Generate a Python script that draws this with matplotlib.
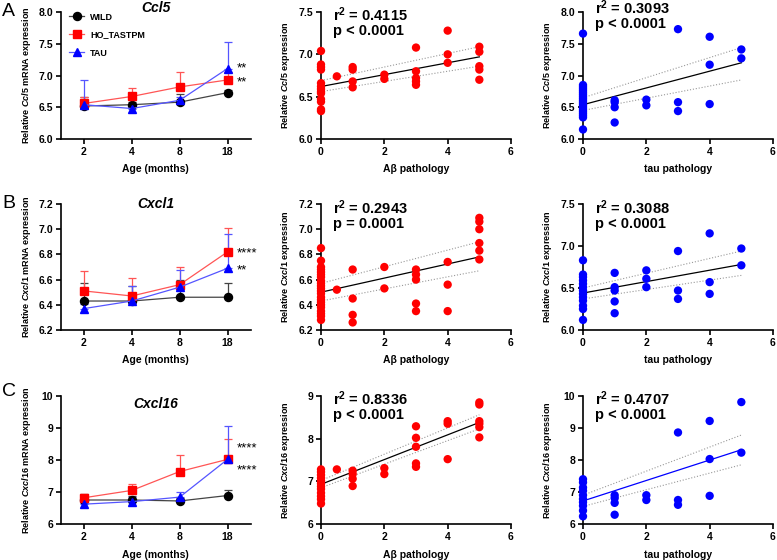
import numpy as np
import matplotlib.pyplot as plt

plt.rcParams['font.family'] = ['Liberation Sans', 'DejaVu Sans']
plt.rcParams['font.weight'] = 'bold'
plt.rcParams['mathtext.fontset'] = 'custom'
plt.rcParams['mathtext.rm'] = 'Liberation Sans:bold'
plt.rcParams['mathtext.it'] = 'Liberation Sans:italic:bold'
plt.rcParams['mathtext.bf'] = 'Liberation Sans:bold'

# ---- time course data (mean and upper error) ----
ages = ['2', '4', '8', '18']

ccl5_wild = [6.52, 6.54, 6.58, 6.73]
ccl5_wild_err = [0.14, 0.04, 0.13, 0.04]
ccl5_ho = [6.56, 6.67, 6.82, 6.93]
ccl5_ho_err = [0.10, 0.14, 0.23, 0.12]
ccl5_tau = [6.54, 6.48, 6.61, 7.11]
ccl5_tau_err = [0.39, 0.04, 0.05, 0.42]

cxcl1_wild = [6.43, 6.43, 6.46, 6.46]
cxcl1_wild_err = [0.14, 0.12, 0.14, 0.11]
cxcl1_ho = [6.51, 6.47, 6.56, 6.82]
cxcl1_ho_err = [0.16, 0.14, 0.14, 0.19]
cxcl1_tau = [6.37, 6.43, 6.54, 6.69]
cxcl1_tau_err = [0.04, 0.12, 0.14, 0.27]

cxcl16_wild = [6.75, 6.75, 6.72, 6.89]
cxcl16_wild_err = [0.20, 0.12, 0.10, 0.16]
cxcl16_ho = [6.82, 7.05, 7.64, 8.02]
cxcl16_ho_err = [0.13, 0.20, 0.53, 0.64]
cxcl16_tau = [6.62, 6.70, 6.84, 8.02]
cxcl16_tau_err = [0.05, 0.15, 0.16, 1.03]

stars_ccl5 = ['**', '**']
stars_ccl5_y = [7.11, 6.89]
stars_cxcl1 = ['****', '**']
stars_cxcl1_y = [6.81, 6.67]
stars_cxcl16 = ['****', '****']
stars_cxcl16_y = [8.36, 7.66]

# ---- correlation data ----
ccl5_ab_x = [0, 0, 0, 0, 0, 0, 0, 0, 0, 0, 0, 0, 0, 0.5, 1, 1, 1, 1, 2, 2,
             3, 3, 3, 3, 3, 4, 4, 4, 5, 5, 5, 5, 5]
ccl5_ab_y = [7.04, 6.88, 6.85, 6.82, 6.66, 6.62, 6.59, 6.56, 6.54, 6.47, 6.44, 6.35, 6.33,
             6.74, 6.85, 6.82, 6.68, 6.61, 6.76, 6.71,
             7.08, 6.80, 6.72, 6.68, 6.64, 7.28, 7.00, 6.90, 7.09, 7.03, 6.86, 6.82, 6.70]

ccl5_tau_x = [0, 0, 0, 0, 0, 0, 0, 0, 0, 0, 0, 0, 0, 0, 0, 0, 0, 0, 0, 0,
              1, 1, 1, 1, 2, 2, 3, 3, 3, 4, 4, 4, 5, 5]
ccl5_tau_y = [7.66, 6.85, 6.82, 6.79, 6.76, 6.73, 6.70, 6.67, 6.64, 6.61, 6.58, 6.55,
              6.52, 6.49, 6.46, 6.43, 6.40, 6.37, 6.34, 6.15,
              6.61, 6.58, 6.50, 6.26, 6.62, 6.53, 7.73, 6.58, 6.44,
              7.61, 7.17, 6.55, 7.41, 7.27]

cxcl1_ab_x = [0, 0, 0, 0, 0, 0, 0, 0, 0, 0, 0, 0, 0, 0, 0, 0, 0, 0, 0, 0, 0, 0,
              0.5, 1, 1, 1, 1, 2, 2, 3, 3, 3, 3, 3, 4, 4, 4, 5, 5, 5, 5, 5, 5]
cxcl1_ab_y = [6.85, 6.75, 6.70, 6.68, 6.66, 6.64, 6.62, 6.59, 6.57, 6.55, 6.53, 6.51,
              6.49, 6.46, 6.44, 6.42, 6.40, 6.38, 6.35, 6.33, 6.31, 6.28,
              6.52, 6.68, 6.45, 6.32, 6.26, 6.70, 6.53,
              6.68, 6.64, 6.60, 6.41, 6.35, 6.74, 6.56, 6.35,
              7.09, 7.06, 7.00, 6.89, 6.83, 6.76]

cxcl1_tau_x = [0, 0, 0, 0, 0, 0, 0, 0, 0, 0, 0, 0, 0,
               1, 1, 1, 1, 1, 2, 2, 2, 3, 3, 3, 4, 4, 4, 5, 5]
cxcl1_tau_y = [6.83, 6.66, 6.63, 6.59, 6.55, 6.51, 6.47, 6.43, 6.39, 6.35, 6.29, 6.25, 6.12,
               6.68, 6.51, 6.47, 6.34, 6.20, 6.71, 6.61, 6.51,
               6.94, 6.47, 6.37, 7.15, 6.57, 6.43, 6.97, 6.77]

cxcl16_ab_x = [0, 0, 0, 0, 0, 0, 0, 0, 0, 0, 0, 0,
               0.5, 1, 1, 1, 1, 2, 2, 3, 3, 3, 3, 3, 4, 4, 4, 5, 5, 5, 5, 5, 5]
cxcl16_ab_y = [7.28, 7.22, 7.15, 7.08, 7.01, 6.95, 6.88, 6.82, 6.73, 6.65, 6.58, 6.48,
               7.28, 7.25, 7.17, 7.06, 6.89, 7.31, 7.17,
               8.29, 8.02, 7.81, 7.42, 7.34, 8.41, 8.35, 7.52,
               8.85, 8.80, 8.41, 8.35, 8.27, 8.03]

cxcl16_tau_x = [0, 0, 0, 0, 0, 0, 0, 0, 0, 0,
                1, 1, 1, 1, 2, 2, 3, 3, 3, 4, 4, 4, 5, 5]
cxcl16_tau_y = [7.40, 7.30, 7.14, 7.04, 6.90, 6.78, 6.68, 6.57, 6.42, 6.24,
                6.90, 6.81, 6.66, 6.29, 6.90, 6.75, 8.86, 6.75, 6.60,
                9.22, 8.03, 6.88, 9.81, 8.23]

# fitted line and 95% band read at x = 0 and x = 5
fit_x = [0, 5]
ccl5_ab_fit = [6.62, 6.97]
ccl5_ab_lo = [6.56, 6.86]
ccl5_ab_hi = [6.69, 7.09]
ccl5_tau_fit = [6.54, 7.20]
ccl5_tau_lo = [6.45, 6.93]
ccl5_tau_hi = [6.65, 7.44]
cxcl1_ab_fit = [6.50, 6.78]
cxcl1_ab_lo = [6.43, 6.67]
cxcl1_ab_hi = [6.57, 6.90]
cxcl1_tau_fit = [6.44, 6.78]
cxcl1_tau_lo = [6.37, 6.65]
cxcl1_tau_hi = [6.50, 6.94]
cxcl16_ab_fit = [6.93, 8.38]
cxcl16_ab_lo = [6.85, 8.23]
cxcl16_ab_hi = [7.02, 8.56]
cxcl16_tau_fit = [6.72, 8.32]
cxcl16_tau_lo = [6.55, 7.85]
cxcl16_tau_hi = [6.90, 8.78]

RED = '#ff0000'
BLUE = '#0000ff'

fig = plt.figure(figsize=(7.77, 5.6), dpi=100)

rows_bottom = [1 - 139 / 560, 1 - 330 / 560, 1 - 524 / 560]
rows_height = [127 / 560, 126 / 560, 128 / 560]
cols_left = [61 / 777, 321 / 777, 583 / 777]
cols_width = [189.5 / 777, 190 / 777, 190 / 777]


def style_axes(ax):
    for s in ['top', 'right']:
        ax.spines[s].set_visible(False)
    for s in ['left', 'bottom']:
        ax.spines[s].set_linewidth(1.2)
    ax.tick_params(width=1.2, length=3.5, labelsize=7.5, pad=2)
    for lab in ax.get_xticklabels() + ax.get_yticklabels():
        lab.set_fontweight('bold')


def line_panel(ax, gene, wild, wild_err, ho, ho_err, tau, tau_err,
               ylim, yticks, stars, stars_y, title_y):
    x = np.arange(len(ages))
    series = [(wild, wild_err, 'black', '#444444', 'o', 'WILD'),
              (ho, ho_err, RED, '#ff5555', 's', 'HO_TASTPM'),
              (tau, tau_err, BLUE, '#5555ff', '^', 'TAU')]
    for vals, err, c, lc, m, lab in series:
        ax.errorbar(x, vals, yerr=[np.zeros(len(err)), err], fmt='none',
                    ecolor=lc, elinewidth=0.9, capsize=3, capthick=0.9, zorder=2)
        ax.plot(x, vals, color=lc, lw=0.9, marker=m, markersize=5.8,
                markerfacecolor=c, markeredgecolor=c, label=lab, zorder=3,
                clip_on=False)
    ax.set_xlim(-0.48, 3.48)
    ax.set_xticks(x)
    ax.set_xticklabels(ages)
    ax.set_ylim(*ylim)
    ax.set_yticks(yticks)
    ax.set_xlabel('Age (months)', fontsize=7.5, fontweight='bold')
    ax.xaxis.set_label_coords(0.5, -0.2)
    ax.set_ylabel(r'Relative $\mathit{%s}$ mRNA expression' % gene,
                  fontsize=6.5, fontweight='bold')
    ax.yaxis.set_label_coords(-0.15, 0.5)
    ax.text(0.5, title_y, gene, transform=ax.transAxes, ha='center', va='center',
            fontsize=10, fontweight='bold', fontstyle='italic')
    for s, sy in zip(stars, stars_y):
        ax.text(3.2, sy, s, ha='left', va='center', fontsize=9.5,
                fontweight='normal', clip_on=False)
    style_axes(ax)


def corr_panel(ax, gene, xs, ys, color, fit, lo, hi, line_color,
               ylim, yticks, r2, ptxt, xlabel, text_y):
    ax.plot(fit_x, lo, color='#999999', ls=':', lw=0.8, zorder=2)
    ax.plot(fit_x, hi, color='#999999', ls=':', lw=0.8, zorder=2)
    ax.plot(fit_x, fit, color=line_color, lw=0.9, zorder=2)
    ax.scatter(xs, ys, s=36, color=color, edgecolors='none', zorder=4,
               clip_on=False)
    ax.set_xlim(0, 6)
    ax.set_xticks([0, 2, 4, 6])
    ax.set_ylim(*ylim)
    ax.set_yticks(yticks)
    ax.set_xlabel(xlabel, fontsize=7.5, fontweight='bold')
    ax.xaxis.set_label_coords(0.5, -0.2)
    ax.set_ylabel(r'Relative $\mathit{%s}$ expression' % gene,
                  fontsize=6.5, fontweight='bold')
    ax.yaxis.set_label_coords(-0.15, 0.5)
    ax.text(0.065, text_y, r'r$^{\mathrm{2}}$ = ' + r2, transform=ax.transAxes,
            ha='left', va='center', fontsize=10.5, fontweight='bold')
    ax.text(0.065, text_y - 0.125, ptxt, transform=ax.transAxes,
            ha='left', va='center', fontsize=10.5, fontweight='bold')
    style_axes(ax)


axes = [[fig.add_axes([cols_left[c], rows_bottom[r], cols_width[c], rows_height[r]])
         for c in range(3)] for r in range(3)]

# row A
line_panel(axes[0][0], 'Ccl5', ccl5_wild, ccl5_wild_err, ccl5_ho, ccl5_ho_err,
           ccl5_tau, ccl5_tau_err, (6.0, 8.0), [6.0, 6.5, 7.0, 7.5, 8.0],
           stars_ccl5, stars_ccl5_y, 1.03)
axes[0][0].yaxis.set_major_formatter(plt.FormatStrFormatter('%.1f'))
leg = axes[0][0].legend(loc='upper left', bbox_to_anchor=(0.0, 1.06), frameon=False,
                        prop={'size': 6.5, 'weight': 'bold'}, labelspacing=1.0,
                        handlelength=1.7, handletextpad=0.6)
corr_panel(axes[0][1], 'Ccl5', ccl5_ab_x, ccl5_ab_y, RED, ccl5_ab_fit, ccl5_ab_lo,
           ccl5_ab_hi, 'black', (6.0, 7.5), [6.0, 6.5, 7.0, 7.5],
           '0.4115', 'p < 0.0001', 'Aβ pathology', 0.975)
axes[0][1].yaxis.set_major_formatter(plt.FormatStrFormatter('%.1f'))
corr_panel(axes[0][2], 'Ccl5', ccl5_tau_x, ccl5_tau_y, BLUE, ccl5_tau_fit, ccl5_tau_lo,
           ccl5_tau_hi, 'black', (6.0, 8.0), [6.0, 6.5, 7.0, 7.5, 8.0],
           '0.3093', 'p < 0.0001', 'tau pathology', 1.03)
axes[0][2].yaxis.set_major_formatter(plt.FormatStrFormatter('%.1f'))

# row B
line_panel(axes[1][0], 'Cxcl1', cxcl1_wild, cxcl1_wild_err, cxcl1_ho, cxcl1_ho_err,
           cxcl1_tau, cxcl1_tau_err, (6.2, 7.2), [6.2, 6.4, 6.6, 6.8, 7.0, 7.2],
           stars_cxcl1, stars_cxcl1_y, 1.0)
axes[1][0].yaxis.set_major_formatter(plt.FormatStrFormatter('%.1f'))
corr_panel(axes[1][1], 'Cxcl1', cxcl1_ab_x, cxcl1_ab_y, RED, cxcl1_ab_fit, cxcl1_ab_lo,
           cxcl1_ab_hi, 'black', (6.2, 7.2), [6.2, 6.4, 6.6, 6.8, 7.0, 7.2],
           '0.2943', 'p = 0.0001', 'Aβ pathology', 0.968)
axes[1][1].yaxis.set_major_formatter(plt.FormatStrFormatter('%.1f'))
corr_panel(axes[1][2], 'Cxcl1', cxcl1_tau_x, cxcl1_tau_y, BLUE, cxcl1_tau_fit,
           cxcl1_tau_lo, cxcl1_tau_hi, 'black', (6.0, 7.5), [6.0, 6.5, 7.0, 7.5],
           '0.3088', 'p < 0.0001', 'tau pathology', 0.968)
axes[1][2].yaxis.set_major_formatter(plt.FormatStrFormatter('%.1f'))

# row C
line_panel(axes[2][0], 'Cxcl16', cxcl16_wild, cxcl16_wild_err, cxcl16_ho, cxcl16_ho_err,
           cxcl16_tau, cxcl16_tau_err, (6, 10), [6, 7, 8, 9, 10],
           stars_cxcl16, stars_cxcl16_y, 0.94)
corr_panel(axes[2][1], 'Cxcl16', cxcl16_ab_x, cxcl16_ab_y, RED, cxcl16_ab_fit,
           cxcl16_ab_lo, cxcl16_ab_hi, 'black', (6, 9), [6, 7, 8, 9],
           '0.8336', 'p < 0.0001', 'Aβ pathology', 0.977)
corr_panel(axes[2][2], 'Cxcl16', cxcl16_tau_x, cxcl16_tau_y, BLUE, cxcl16_tau_fit,
           cxcl16_tau_lo, cxcl16_tau_hi, BLUE, (6, 10), [6, 7, 8, 9, 10],
           '0.4707', 'p < 0.0001', 'tau pathology', 0.977)

# panel letters
for letter, yy in zip(['A', 'B', 'C'], [548, 357, 168]):
    fig.text(2 / 777, yy / 560, letter, fontsize=14, fontweight='normal',
             ha='left', va='center')

fig.savefig('out.png', dpi=100)
